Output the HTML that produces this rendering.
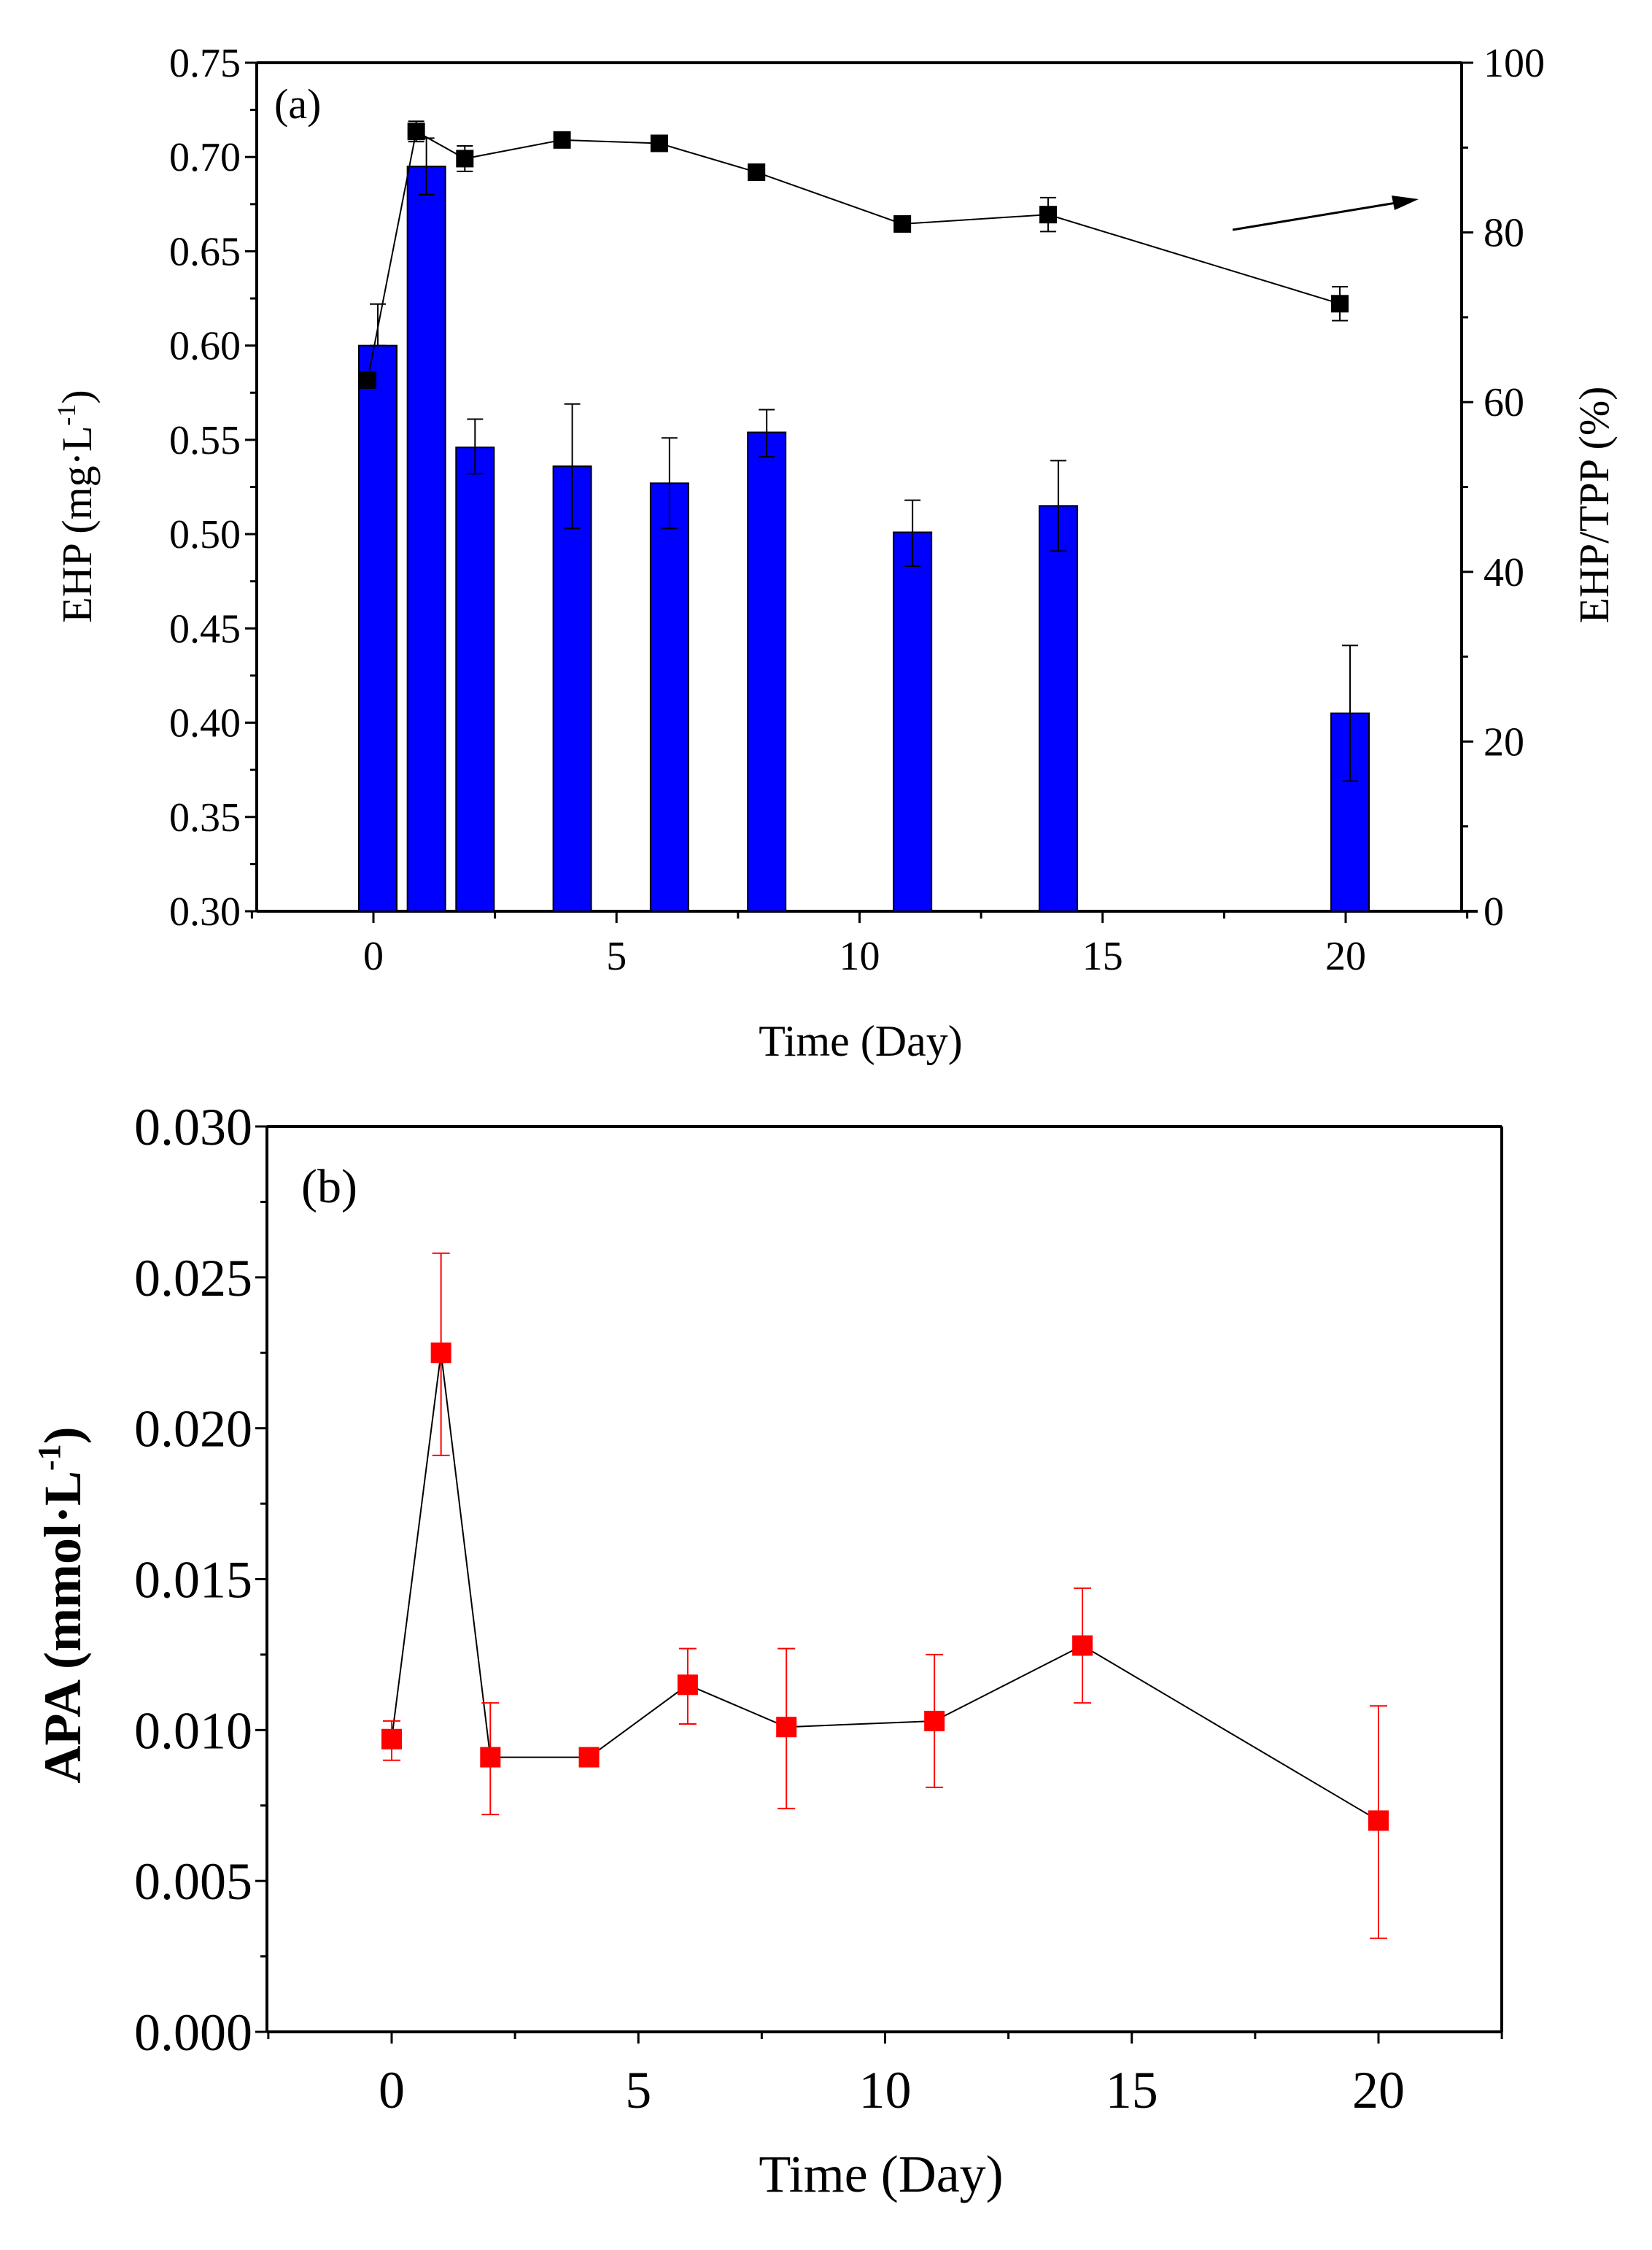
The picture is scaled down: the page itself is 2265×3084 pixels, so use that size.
<!DOCTYPE html>
<html><head><meta charset="utf-8"><style>
html,body{margin:0;padding:0;background:#fff}
svg{display:block;font-family:"Liberation Serif",serif}
</style></head><body>
<svg id="c" width="2265" height="3084" viewBox="0 0 2265 3084"></svg>
<script>
// Panel (a) data
const aDays=[0,1,2,4,6,8,11,14,20];
const ehp=[0.600,0.695,0.546,0.536,0.527,0.554,0.501,0.515,0.405];
const ehpHi=[0.622,0.710,0.561,0.569,0.551,0.566,0.518,0.539,0.441];
const ehpLo=[0.600,0.680,0.532,0.503,0.503,0.541,0.483,0.491,0.369];
const ratio=[62.6,91.9,88.7,90.9,90.5,87.1,81.0,82.1,71.6];
const ratioErr=[0,1.2,1.5,0,0,0,0,2.0,2.0];
const aLeftTicks=["0.30","0.35","0.40","0.45","0.50","0.55","0.60","0.65","0.70","0.75"];
const aRightTicks=["0","20","40","60","80","100"];
const xTicks=["0","5","10","15","20"];
// Panel (b) data
const bDays=[0,1,2,4,6,8,11,14,20];
const apa=[0.0097,0.0225,0.0091,0.0091,0.0115,0.0101,0.0103,0.0128,0.0070];
const apaHi=[0.0103,0.0258,0.0109,0.0091,0.0127,0.0127,0.0125,0.0147,0.0108];
const apaLo=[0.0090,0.0191,0.0072,0.0091,0.0102,0.0074,0.0081,0.0109,0.0031];
const bTicks=["0.000","0.005","0.010","0.015","0.020","0.025","0.030"];

const S=document.getElementById('c');
const NS='http://www.w3.org/2000/svg';
function el(t,a,txt){const e=document.createElementNS(NS,t);for(const k in a)e.setAttribute(k,a[k]);if(txt!==undefined)e.textContent=txt;S.appendChild(e);return e;}
function line(x1,y1,x2,y2,c,w){return el('line',{x1,y1,x2,y2,stroke:c||'#000','stroke-width':w||4});}

// ---------- Panel A ----------
const A={l:352,r:2004,t:86,b:1249,x0:512,px:66.65};
const ax=d=>A.x0+d*A.px;
const ayL=v=>A.b-(v-0.30)/(0.45)*(A.b-A.t);
const ayR=v=>A.b-v/100*(A.b-A.t);
let e;
e=line(A.l,A.b,2026,A.b);
e=line(A.l,A.t,A.r,A.t);
e=line(A.l,A.t,A.l,A.b);
e=line(A.r,A.t,A.r,A.b);
for(let i=0;i<aLeftTicks.length;i++){const v=0.30+i*0.05,y=ayL(v);line(A.l-16,y,A.l,y,'#000',3);
 e=el('text',{x:A.l-22,y:y+19,'font-size':56,'text-anchor':'end'},aLeftTicks[i]);
 if(i<aLeftTicks.length-1){const ym=ayL(v+0.025);line(A.l-9,ym,A.l,ym,'#000',3);}}
for(let i=0;i<aRightTicks.length;i++){const v=i*20,y=ayR(v);line(A.r,y,A.r+16,y,'#000',3);
 e=el('text',{x:A.r+30,y:y+19,'font-size':56},aRightTicks[i]);
 if(i<aRightTicks.length-1){const ym=ayR(v+10);line(A.r,ym,A.r+9,ym,'#000',3);}}
for(let i=0;i<xTicks.length;i++){const x=ax(i*5);line(x,A.b,x,A.b+16,'#000',3);
 e=el('text',{x:x,y:A.b+80,'font-size':56,'text-anchor':'middle'},xTicks[i]);
 const xm=ax(i*5+2.5);line(xm,A.b,xm,A.b+10,'#000',3);}
line(ax(-2.5),A.b,ax(-2.5),A.b+10,'#000',3);
// bars
for(let i=0;i<aDays.length;i++){const cx=ax(aDays[i])+6,w=52,y=ayL(ehp[i]);
 e=el('rect',{x:cx-w/2,y:y,width:w,height:A.b-y,fill:'#0000ff',stroke:'#000','stroke-width':2});
 
 line(cx,ayL(ehpHi[i]),cx,ayL(ehpLo[i]),'#000',2);
 line(cx-11,ayL(ehpHi[i]),cx+11,ayL(ehpHi[i]),'#000',2);
 line(cx-11,ayL(ehpLo[i]),cx+11,ayL(ehpLo[i]),'#000',2);}
// ratio line
let pts=aDays.map((d,i)=>(ax(d)-8)+','+ayR(ratio[i])).join(' ');
e=el('polyline',{points:pts,fill:'none',stroke:'#000','stroke-width':2});
for(let i=0;i<aDays.length;i++){const cx=ax(aDays[i])-8,y=ayR(ratio[i]);
 if(ratioErr[i]>0){const y1=ayR(ratio[i]+ratioErr[i]),y2=ayR(ratio[i]-ratioErr[i]);line(cx,y1,cx,y2,'#000',2);line(cx-11,y1,cx+11,y1,'#000',2);line(cx-11,y2,cx+11,y2,'#000',2);}
 e=el('rect',{x:cx-12,y:y-12,width:24,height:24,fill:'#000'});}
// arrow
e=line(1690,315,1920,277,'#000',3);
el('polygon',{points:'1945,273 1908,268 1912,288',fill:'#000'});
e=el('text',{x:376,y:162,'font-size':58},'(a)');
e=el('text',{x:0,y:0,'font-size':58,'text-anchor':'middle',transform:'translate(125,694) rotate(-90)'});
e.innerHTML='EHP (mg·L<tspan dy="-22" font-size="36">-1</tspan><tspan dy="22">)</tspan>';
e=el('text',{x:0,y:0,'font-size':58,'text-anchor':'middle',transform:'translate(2205,692) rotate(-90)'},'EHP/TPP (%)');
e=el('text',{x:1180,y:1447,'font-size':60,'text-anchor':'middle'},'Time (Day)');

// ---------- Panel B ----------
const B={l:366,r:2059,t:1544,b:2785,x0:537,px:67.65};
const bx=d=>B.x0+d*B.px;
const by=v=>B.b-v/0.030*(B.b-B.t);
e=line(B.l,B.b,B.r,B.b);
e=line(B.l,B.t,B.r,B.t);
e=line(B.l,B.t,B.l,B.b);
e=line(B.r,B.t,B.r,B.b);
for(let i=0;i<bTicks.length;i++){const v=i*0.005,y=by(v);line(B.l-16,y,B.l,y,'#000',3);
 e=el('text',{x:B.l-20,y:y+25,'font-size':72,'text-anchor':'end'},bTicks[i]);
 if(i<bTicks.length-1){const ym=by(v+0.0025);line(B.l-9,ym,B.l,ym,'#000',3);}}
for(let i=0;i<xTicks.length;i++){const x=bx(i*5);line(x,B.b,x,B.b+16,'#000',3);
 e=el('text',{x:x,y:B.b+104,'font-size':72,'text-anchor':'middle'},xTicks[i]);
 const xm=bx(i*5+2.5);line(xm,B.b,xm,B.b+10,'#000',3);}
line(bx(-2.5),B.b,bx(-2.5),B.b+10,'#000',3);
pts=bDays.map((d,i)=>bx(d)+','+by(apa[i])).join(' ');
e=el('polyline',{points:pts,fill:'none',stroke:'#000','stroke-width':2});
for(let i=0;i<bDays.length;i++){const cx=bx(bDays[i]),y=by(apa[i]);
 const y1=by(apaHi[i]),y2=by(apaLo[i]);
 if(apaHi[i]>apaLo[i]){line(cx,y1,cx,y2,'#ff0000',2);line(cx-12,y1,cx+12,y1,'#ff0000',2);line(cx-12,y2,cx+12,y2,'#ff0000',2);}
 e=el('rect',{x:cx-14,y:y-14,width:28,height:28,fill:'#ff0000'});}
e=el('text',{x:413,y:1648,'font-size':66},'(b)');
e=el('text',{x:0,y:0,'font-size':72,'text-anchor':'middle','font-weight':'bold',transform:'translate(110,2200) rotate(-90)'});
e.innerHTML='APA (mmol·L<tspan dy="-28" font-size="44">-1</tspan><tspan dy="28">)</tspan>';
e=el('text',{x:1208,y:3004,'font-size':72,'text-anchor':'middle'},'Time (Day)');
</script>
</body></html>
